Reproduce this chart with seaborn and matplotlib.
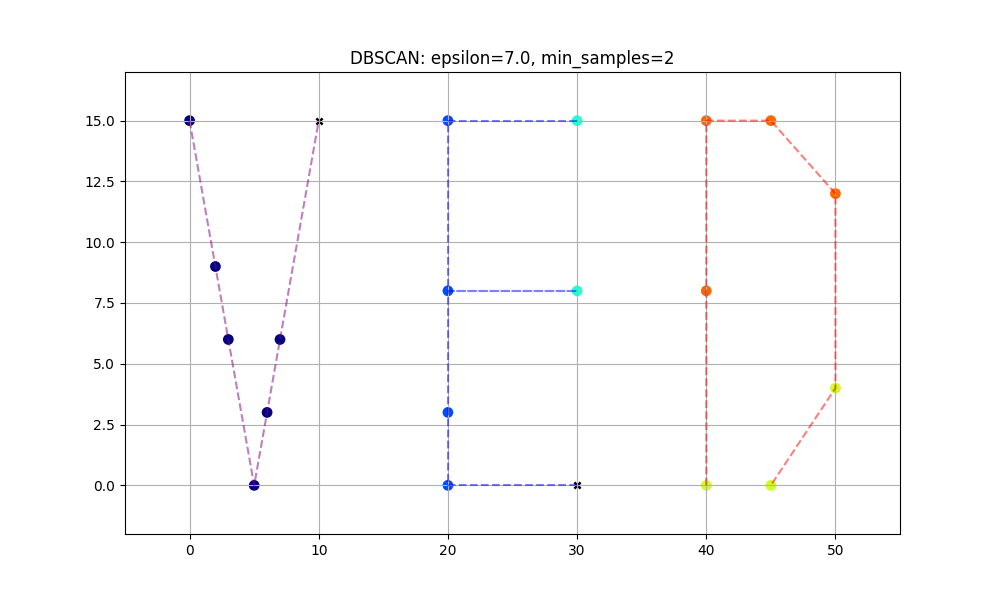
import numpy as np
import pandas as pd
import seaborn as sns
import matplotlib
matplotlib.use("Agg")
import matplotlib.pyplot as plt

# points spelling "VED"
x_vals = [0, 2, 3, 5, 6, 7, 10,
          20, 20, 20, 20, 30, 30, 30,
          40, 45, 50, 40, 40, 45, 50]
y_vals = [15, 9, 6, 0, 3, 6, 15,
          15, 8, 3, 0, 15, 8, 0,
          15, 15, 12, 8, 0, 0, 4]
# DBSCAN labels, -1 = noise
labels = [0, 0, 0, 0, 0, 0, -1,
          1, 1, 1, 1, 2, 2, -1,
          4, 4, 4, 4, 3, 3, 3]

# letter outlines drawn as dashed guides
v_x = [0, 2, 3, 5, 6, 7, 10]
v_y = [15, 9, 6, 0, 3, 6, 15]
e_x = [30, 20, 20, 30, 20, 20, 30]
e_y = [15, 15, 8, 8, 8, 0, 0]
d_x = [40, 40, 45, 50, 50, 45]
d_y = [0, 15, 15, 12, 4, 0]

df = pd.DataFrame({"x": x_vals, "y": y_vals, "label": labels})
clusters = df[df["label"] >= 0]
noise = df[df["label"] < 0]

n_clusters = 5
palette = {k: plt.cm.jet(k / n_clusters) for k in range(n_clusters)}

fig, ax = plt.subplots(figsize=(10, 6), dpi=100)

sns.scatterplot(data=clusters, x="x", y="y", hue="label", palette=palette,
                s=60, linewidth=0, legend=False, ax=ax)
sns.scatterplot(data=noise, x="x", y="y", color="black", marker="x",
                s=20, linewidth=1.8, legend=False, ax=ax)

ax.plot(v_x, v_y, "--", color="purple", alpha=0.5, linewidth=1.5)
ax.plot(e_x, e_y, "--", color="blue", alpha=0.5, linewidth=1.5)
ax.plot(d_x, d_y, "--", color="red", alpha=0.5, linewidth=1.5)

ax.set_xlim(-5, 55)
ax.set_ylim(-2, 17)
ax.set_xlabel("")
ax.set_ylabel("")
ax.grid(True)
ax.set_title("DBSCAN: epsilon=7.0, min_samples=2")

fig.savefig("out.png", dpi=100)
